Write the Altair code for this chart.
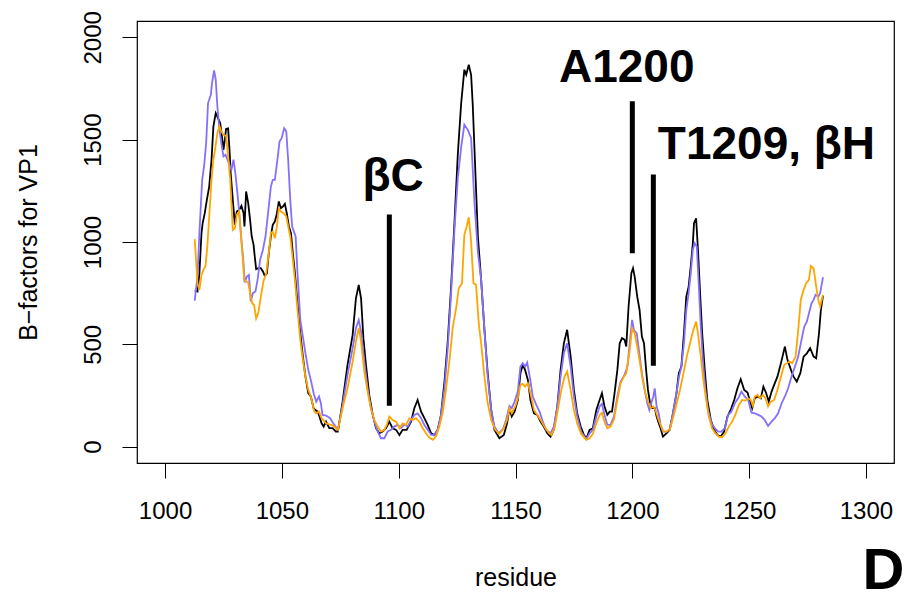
import altair as alt
import pandas as pd

# ---------------- data ----------------
black_res = [1012.7,1013.9,1014.7,1015.6,1016.1,1017.0,1017.9,1018.9,1019.9,1020.7,1021.7,1022.4,1023.6,1024.3,1025.0,1025.6,1026.1,1027.0,1027.6,1028.1,1029.0,1029.9,1030.7,1031.7,1032.7,1033.6,1034.0,1034.7,1035.6,1036.4,1037.1,1037.9,1038.4,1039.0,1039.9,1041.0,1041.9,1042.7,1043.6,1044.4,1045.3,1046.1,1047.0,1047.9,1048.7,1049.6,1050.4,1051.3,1052.1,1053.0,1053.9,1054.7,1055.6,1056.7,1057.9,1059.0,1060.1,1061.3,1062.4,1063.6,1064.4,1065.3,1066.1,1067.0,1067.9,
             1068.9,1070.3,1071.7,1073.1,1074.0,1076.0,1078.1,1080.3,1081.7,1082.9,1083.9,1084.9,1086.0,1087.4,1088.9,1090.3,1091.7,1093.1,1094.6,1096.0,1097.4,1098.9,1100.3,1101.7,1103.4,1105.3,1106.7,1108.1,1109.6,1111.0,1112.4,1113.9,1115.3,1116.7,1118.1,1119.6,1121.0,1122.4,1123.9,1125.3,1126.7,1128.1,1128.9,1130.0,1131.0,1131.7,
             1133.9,1135.3,1136.7,1138.1,1139.6,1141.0,1143.1,1145.0,1146.4,1147.4,1148.4,1149.6,1151.0,1152.1,1153.1,1154.1,1155.3,1156.4,1157.9,1159.3,1160.7,1162.1,1163.6,1165.0,1166.4,1167.9,1169.3,1170.7,1172.1,1173.6,1175.0,1176.4,1177.9,1179.3,1180.4,1181.7,1183.1,1184.6,1186.0,1187.0,1188.1,1189.3,1190.3,1191.3,1192.4,1193.6,1194.6,1195.6,1196.7,1197.4,1198.4,1199.6,1200.3,
             1201.0,1202.1,1203.1,1204.1,1205.0,1205.9,1206.7,1207.6,1208.4,1209.6,1210.4,1211.3,1212.1,1213.1,1214.6,1216.0,1217.4,1218.9,1219.9,1221.0,1222.1,1223.1,1224.1,1225.0,1225.9,1226.4,1227.3,1228.1,1229.0,1229.9,1231.0,1232.1,1233.6,1235.0,1236.4,1237.9,1239.3,1240.7,1242.1,1243.6,1245.0,1246.4,1247.9,1249.3,1250.4,1251.3,1252.4,1253.6,1255.0,1256.1,1257.3,1258.4,1259.6,1260.7,1262.1,1263.6,1265.3,1266.4,1267.9,1269.0,1270.4,1271.9,1273.3,1274.7,1276.1,1277.6,1278.7,1279.9,1280.7,1281.6]
black_val = [763,758,847,1043,1092,1141,1206,1271,1402,1565,1630,1613,1581,1524,1450,1499,1552,1555,1450,1336,1206,1084,1149,1157,1177,1141,1076,1247,1190,1108,1027,986,929,867,872,872,856,834,847,945,1027,1084,1100,1141,1198,1165,1173,1186,1141,1076,1043,945,847,701,554,440,342,261,245,187,179,171,147,114,98,
             122,90,90,74,74,220,400,546,725,790,725,530,400,253,155,90,65,74,90,122,90,82,57,82,82,122,188,228,171,139,106,65,57,82,155,318,514,774,1100,1426,1671,1842,1817,1866,1817,1671,
             1027,815,571,359,179,82,41,57,114,188,147,171,228,359,399,375,326,228,163,155,122,98,65,49,82,196,375,505,571,440,277,163,98,57,41,82,90,179,228,261,196,155,171,171,261,375,505,530,522,489,685,848,872,
             831,733,668,538,505,375,277,212,188,188,147,114,90,49,65,82,163,261,359,391,554,733,782,880,994,1092,1116,962,750,554,375,228,130,82,57,49,74,147,179,228,285,329,277,264,220,188,236,245,236,293,261,220,269,302,342,407,489,424,375,342,318,359,440,456,481,440,432,554,668,737]

purple_res = [1012.7,1013.9,1014.7,1015.9,1016.7,1017.6,1018.4,1019.6,1020.1,1021.0,1021.7,1022.4,1023.3,1024.1,1025.0,1025.9,1026.7,1027.6,1028.4,1029.3,1030.1,1031.0,1031.9,1032.7,1033.6,1034.1,1035.0,1035.9,1036.7,1037.6,1038.7,1039.6,1040.7,1041.9,1043.0,1044.1,1045.3,1046.1,1047.0,1048.1,1049.0,1049.9,1051.0,1051.9,1052.7,1053.6,1054.4,1055.9,1056.7,1057.9,1059.0,1060.1,1061.3,1062.4,1063.6,1064.7,1065.9,1066.7,
              1067.4,1068.9,1070.6,1072.0,1074.0,1076.0,1078.1,1080.3,1081.7,1082.9,1083.9,1085.3,1086.7,1088.1,1089.6,1091.0,1092.4,1093.9,1095.3,1096.7,1098.1,1099.6,1101.0,1102.4,1103.9,1105.3,1106.7,1108.1,1109.6,1111.0,1112.4,1113.9,1115.3,1116.7,1118.1,1119.6,1121.0,1122.4,1123.9,1125.3,1126.7,1128.1,1129.6,1131.0,1132.4,1133.9,
              1135.3,1136.7,1138.1,1139.6,1141.0,1142.7,1144.6,1146.0,1147.4,1148.4,1149.6,1151.0,1152.1,1153.1,1154.1,1155.0,1156.1,1157.4,1158.9,1160.3,1161.7,1163.1,1165.0,1166.4,1167.9,1169.3,1170.7,1172.1,1173.6,1175.0,1176.4,1178.1,1180.3,1181.7,1183.1,1184.6,1186.0,1187.0,1188.1,1189.3,1190.7,1192.1,1193.6,1195.0,1196.7,1197.9,1198.9,1199.9,1200.7,
              1201.9,1203.0,1204.1,1205.3,1206.4,1207.3,1208.1,1209.0,1209.6,1210.4,1211.3,1212.1,1213.1,1214.6,1216.0,1217.4,1218.9,1220.0,1221.0,1222.1,1223.1,1224.1,1225.0,1225.9,1226.7,1227.6,1228.4,1229.3,1230.3,1231.3,1232.4,1233.9,1235.3,1236.7,1238.1,1239.6,1241.0,1242.4,1243.9,1245.3,1246.7,1248.1,1249.6,1251.0,1252.4,1253.9,1255.3,1256.7,1258.1,1259.6,1261.0,1262.4,1263.9,1265.3,1266.7,1268.1,1269.6,1271.0,1272.4,1273.6,1274.7,1275.6,1276.7,1277.6,1278.4,1279.6,1280.4,1281.6]
purple_val = [714,831,1043,1304,1369,1483,1679,1719,1776,1838,1793,1662,1548,1483,1418,1426,1402,1377,1353,1402,1336,1238,1124,1010,896,802,831,839,709,750,758,815,913,962,1027,1141,1271,1304,1304,1402,1491,1507,1556,1540,1402,1206,1076,1027,847,619,538,456,375,326,261,220,245,212,
              155,152,139,114,82,204,351,481,579,619,562,416,285,188,122,74,41,41,74,82,98,106,90,109,98,130,155,163,139,106,82,57,57,82,155,285,481,742,1068,1312,1459,1573,1548,1508,1198,950,
              815,571,342,179,98,65,85,131,199,188,220,269,391,408,391,411,342,245,204,171,122,82,65,98,196,342,456,505,391,245,147,73,36,65,82,147,196,209,155,106,106,147,245,318,351,391,505,619,570,
              554,456,359,277,212,179,212,245,285,196,163,106,73,73,85,163,261,342,391,505,668,750,847,962,994,978,799,587,408,277,179,114,90,73,73,90,155,171,212,236,269,245,228,166,163,155,147,130,101,122,139,163,212,245,285,342,391,440,522,587,611,652,701,717,742,733,750,828]

orange_res = [1012.7,1013.9,1014.7,1015.6,1016.4,1017.3,1018.1,1019.0,1019.9,1020.7,1021.6,1022.4,1023.3,1024.1,1025.0,1026.1,1027.0,1027.9,1028.4,1029.0,1029.9,1030.7,1031.7,1032.4,1033.3,1033.9,1034.7,1035.6,1036.4,1037.3,1038.1,1039.0,1039.9,1041.0,1042.1,1043.3,1044.4,1045.3,1046.1,1047.0,1047.9,1048.7,1049.6,1050.7,1051.9,1052.7,1053.6,1054.4,1055.6,1056.7,1057.9,1059.0,1060.1,1061.3,1062.4,1063.9,1064.7,1065.9,1067.0,
              1068.9,1070.3,1072.0,1074.0,1076.0,1078.1,1080.3,1081.7,1082.9,1083.9,1085.3,1086.7,1088.1,1089.6,1091.0,1092.4,1093.9,1094.9,1096.0,1097.4,1098.9,1100.3,1101.7,1103.1,1104.6,1106.0,1107.4,1108.9,1110.3,1111.7,1113.1,1114.6,1116.0,1117.4,1118.9,1120.3,1121.7,1123.1,1124.6,1125.7,1127.1,1128.1,1129.1,1130.0,1131.0,1132.0,1133.1,1134.3,
              1135.3,1136.7,1138.1,1139.6,1141.3,1143.1,1145.0,1146.4,1147.4,1148.4,1149.9,1151.0,1152.1,1153.1,1154.1,1155.3,1156.4,1157.9,1159.3,1160.7,1162.4,1163.9,1165.3,1166.7,1168.1,1169.6,1171.0,1172.1,1173.6,1175.0,1176.4,1178.1,1180.3,1181.7,1183.1,1184.6,1186.0,1187.0,1188.1,1189.3,1190.7,1192.1,1193.6,1195.0,1196.4,1197.4,1198.9,1199.9,
              1201.0,1202.1,1203.3,1204.4,1205.6,1206.7,1207.9,1209.0,1209.9,1211.0,1212.1,1213.3,1214.7,1216.1,1217.6,1219.0,1220.4,1221.9,1223.3,1224.7,1226.1,1227.3,1228.1,1229.3,1230.4,1231.6,1232.7,1234.1,1235.6,1237.0,1238.4,1239.9,1241.3,1242.7,1244.1,1245.6,1247.0,1248.4,1249.6,1250.7,1251.6,1252.4,1253.6,1254.7,1255.9,1257.0,1258.1,1259.3,1260.7,1262.1,1263.6,1265.0,1266.1,1267.3,1268.4,1269.9,1271.0,1272.1,1273.3,1274.4,1275.6,1276.4,1277.6,1278.7,1279.6,1280.4,1281.6]
orange_val = [1014,798,766,839,864,880,978,1141,1304,1402,1467,1532,1565,1540,1524,1519,1418,1304,1190,1059,1067,1133,1149,1043,913,815,807,802,750,701,693,627,652,733,807,847,945,1043,1051,1018,1076,1165,1149,1141,1125,1076,1027,945,815,668,521,424,342,277,245,171,163,171,139,
              114,109,103,82,188,285,416,514,579,514,367,269,188,130,98,74,82,106,147,130,122,90,114,106,139,130,139,122,90,65,44,33,49,98,171,285,416,579,677,774,799,1035,1076,1121,1002,799,791,600,
              505,342,212,131,82,62,90,131,188,163,196,236,302,307,293,310,261,179,155,131,98,73,57,90,179,277,342,367,277,179,114,62,33,41,62,114,155,166,122,90,98,131,228,310,342,359,473,579,
              554,489,408,326,261,220,188,196,179,139,106,73,73,85,147,212,277,359,440,505,570,611,554,440,326,228,147,90,65,49,46,65,98,122,155,204,228,225,236,228,199,245,253,236,253,236,196,220,228,277,342,399,408,416,408,440,570,717,766,799,815,883,872,782,717,685,742]

x_ticks = [1000, 1050, 1100, 1150, 1200, 1250, 1300]
y_ticks = [0, 500, 1000, 1500, 2000]

label_text = ["\u03b2C", "A1200", "T1209, \u03b2H"]
label_x = [1097.6, 1197.6, 1257.4]
label_y = [1250, 1783, 1406]

seg_x = [1096, 1200, 1209]
seg_y1 = [200, 945, 395]
seg_y2 = [1135, 1688, 1330]

panel_text = ["D"]
panel_x = [1307.5]
panel_y = [-698]

# ---------------- chart ----------------
FONT = "Liberation Sans"
xscale = alt.Scale(domain=[988, 1312], nice=False, zero=False)
yscale = alt.Scale(domain=[-80, 2080], nice=False, zero=False)

xaxis = alt.Axis(values=x_ticks, format="d", title="residue", grid=False, domain=False,
                 tickSize=15, tickColor="black", tickWidth=1,
                 labelFontSize=24, labelFont=FONT, labelColor="black",
                 labelPadding=21, labelFlush=False, labelOverlap=False,
                 titleFontSize=25, titleFont=FONT, titleFontWeight="normal",
                 titleColor="black", titleX=378.5, titleY=122,
                 titleBaseline="alphabetic", titleAlign="center")
yaxis = alt.Axis(values=y_ticks, format="d", title="B\u2212factors for VP1", grid=False, domain=False,
                 tickSize=15, tickColor="black", tickWidth=1,
                 labelFontSize=24, labelFont=FONT, labelColor="black",
                 labelAngle=270, labelAlign="center", labelBaseline="alphabetic",
                 labelPadding=22, labelFlush=False, labelOverlap=False,
                 titleFontSize=25, titleFont=FONT, titleFontWeight="normal",
                 titleColor="black", titleAngle=270, titleX=-101, titleY=221,
                 titleBaseline="alphabetic", titleAlign="center")


def line(res, val, color):
    df = pd.DataFrame({"residue": res, "bfactor": val})
    return alt.Chart(df).mark_line(color=color, strokeWidth=1.8).encode(
        x=alt.X("residue:Q", scale=xscale, axis=xaxis),
        y=alt.Y("bfactor:Q", scale=yscale, axis=yaxis),
        order="residue:Q",
    )


ann_df = pd.DataFrame({"residue": label_x, "bfactor": label_y, "label": label_text})
ann = alt.Chart(ann_df).mark_text(font=FONT, fontSize=46, fontWeight="bold",
                                  align="center", baseline="alphabetic", color="black").encode(
    x=alt.X("residue:Q", scale=xscale, axis=xaxis),
    y=alt.Y("bfactor:Q", scale=yscale, axis=yaxis),
    text="label:N",
)

seg_df = pd.DataFrame({"residue": seg_x, "y1": seg_y1, "y2": seg_y2})
segs = alt.Chart(seg_df).mark_rule(color="black", strokeWidth=5).encode(
    x=alt.X("residue:Q", scale=xscale, axis=xaxis),
    y=alt.Y("y1:Q", scale=yscale, axis=yaxis),
    y2="y2:Q",
)

panel_df = pd.DataFrame({"residue": panel_x, "bfactor": panel_y, "label": panel_text})
panel = alt.Chart(panel_df).mark_text(font=FONT, fontSize=58, fontWeight="bold",
                                      align="center", baseline="alphabetic", color="black").encode(
    x=alt.X("residue:Q", scale=xscale, axis=xaxis),
    y=alt.Y("bfactor:Q", scale=yscale, axis=yaxis),
    text="label:N",
)

chart = alt.layer(
    line(black_res, black_val, "black"),
    line(purple_res, purple_val, "#8470FF"),
    line(orange_res, orange_val, "#FFA500"),
    segs, ann, panel,
).properties(
    width=757, height=442,
    autosize=alt.AutoSizeParams(type="none"),
    padding={"left": 129, "top": 13, "right": 10, "bottom": 130},
    background="white",
).configure_view(stroke="black", strokeWidth=1.2)

chart.save("out.html", embed_options={"renderer": "svg", "actions": False})
